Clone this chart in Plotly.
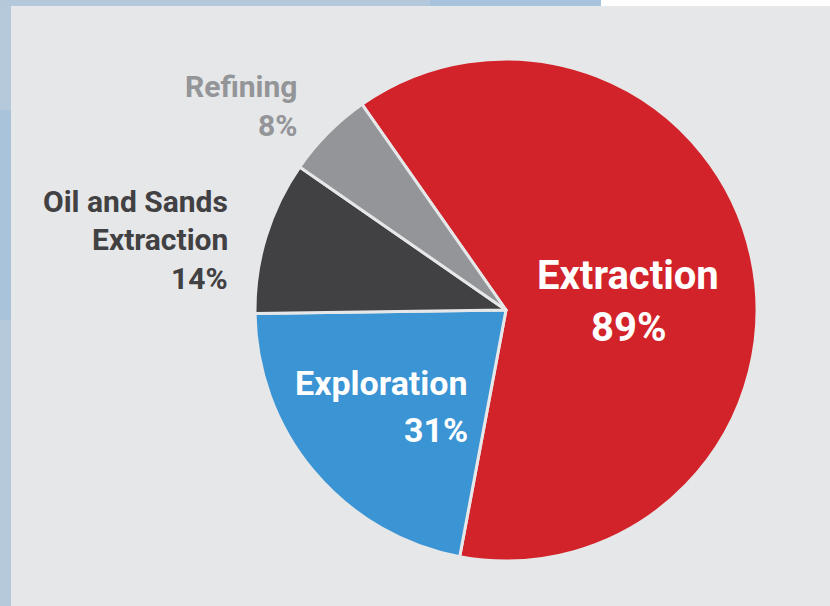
import textwrap
import plotly.graph_objects as go

# ---- data ----
labels = ["Extraction", "Exploration", "Oil and Sands Extraction", "Refining"]
values = [89, 31, 14, 8]
colors = ["#d2232a", "#3b94d3", "#414042", "#939598"]

W, H = 830, 606
FONT = "Roboto, Arial, sans-serif"

def px(x):
    return x / W

def py(y):
    return 1 - y / H

fig = go.Figure(go.Pie(
    labels=labels,
    values=values,
    sort=False,
    direction="clockwise",
    rotation=-35,
    marker=dict(colors=colors, line=dict(color="#e6e7e8", width=3)),
    textinfo="none",
    hoverinfo="label+value",
    showlegend=False,
    domain=dict(x=[px(255), px(757)], y=[py(561), py(59)]),
))

# label layout: (x, anchor, font size, text color, y-middles for each line)
label_layout = [
    (628, "center", 40, "#ffffff", [275, 327]),
    (470, "right", 34, "#ffffff", [383, 430]),
    (230, "right", 30, "#414042", [201, 239, 278]),
    (299, "right", 30, "#939598", [86, 126]),
]

annotations = []
for lab, val, (x, anc, size, col, ys) in zip(labels, values, label_layout):
    lines = textwrap.wrap(lab, 14) + [f"{val}%"]
    for line, y in zip(lines, ys):
        annotations.append(dict(
            x=px(x), y=py(y), xref="paper", yref="paper",
            xanchor=anc, yanchor="middle", showarrow=False,
            text=f"<b>{line}</b>",
            font=dict(family=FONT, size=size, color=col),
        ))

shapes = [
    # blue textured backdrop strips
    dict(type="rect", xref="paper", yref="paper", x0=0, x1=px(11), y0=0, y1=1,
         fillcolor="#b6c9da", line=dict(width=0), layer="below"),
    dict(type="rect", xref="paper", yref="paper", x0=0, x1=px(11), y0=py(320), y1=py(110),
         fillcolor="#a9c3db", line=dict(width=0), layer="below"),
    dict(type="rect", xref="paper", yref="paper", x0=0, x1=px(601), y0=py(6), y1=1,
         fillcolor="#b4c8dc", line=dict(width=0), layer="below"),
    dict(type="rect", xref="paper", yref="paper", x0=px(430), x1=px(601), y0=py(6), y1=1,
         fillcolor="#a8c3dc", line=dict(width=0), layer="below"),
    dict(type="rect", xref="paper", yref="paper", x0=px(601), x1=1, y0=py(6), y1=1,
         fillcolor="#ffffff", line=dict(width=0), layer="below"),
]

fig.update_layout(
    width=W, height=H,
    margin=dict(l=0, r=0, t=0, b=0),
    paper_bgcolor="#e6e7e8",
    plot_bgcolor="#e6e7e8",
    annotations=annotations,
    shapes=shapes,
)

fig.write_html("out.html", config={"displayModeBar": False},
               post_script="document.body.style.margin='0px';")
